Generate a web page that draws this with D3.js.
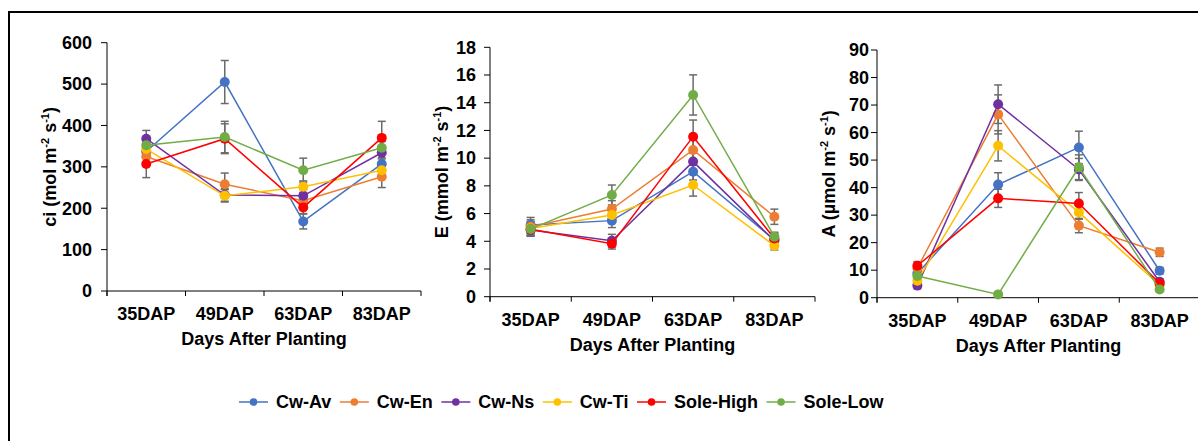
<!DOCTYPE html>
<html><head><meta charset="utf-8">
<script src="https://cdn.jsdelivr.net/npm/d3@7"></script>
<style>
html,body{margin:0;padding:0;background:#fff;}
svg{display:block;font-family:"Liberation Sans",Arial,sans-serif;}
</style></head>
<body>
<svg id="chart" width="1198" height="441"></svg>
<script>
const categories = ["35DAP","49DAP","63DAP","83DAP"];
const seriesNames = ["Cw-Av","Cw-En","Cw-Ns","Cw-Ti","Sole-High","Sole-Low"];
const seriesColors = ["#4472C4","#ED7D31","#7030A0","#FFC000","#FF0000","#70AD47"];

// ci (mol m-2 s-1)
const ciValues = [
  [337, 505, 168, 307],
  [325, 258, 218, 276],
  [368, 232, 230, 334],
  [343, 230, 252, 292],
  [307, 368, 202, 370],
  [352, 372, 292, 346]
];
const ciErrors = [
  [15, 52, 18, 15],
  [15, 27, 15, 26],
  [20, 15, 15, 15],
  [15, 15, 14, 15],
  [33, 36, 15, 40],
  [15, 38, 29, 15]
];
// E (mmol m-2 s-1)
const eValues = [
  [5.17, 5.49, 9.02, 4.10],
  [5.05, 6.33, 10.59, 5.77],
  [4.81, 4.04, 9.75, 4.04],
  [4.93, 5.90, 8.06, 3.68],
  [4.86, 3.83, 11.55, 4.20],
  [4.88, 7.34, 14.56, 4.33]
];
const eErrors = [
  [0.55, 0.50, 0.60, 0.40],
  [0.50, 0.60, 0.80, 0.55],
  [0.45, 0.46, 0.70, 0.40],
  [0.50, 0.50, 0.80, 0.30],
  [0.40, 0.39, 1.20, 0.40],
  [0.50, 0.72, 1.45, 0.32]
];
// A (µmol m-2 s-1)
const aValues = [
  [8.8, 41.1, 54.6, 9.8],
  [10.7, 66.6, 26.2, 16.5],
  [4.4, 70.3, 46.6, 5.8],
  [6.2, 55.2, 31.0, 4.6],
  [11.6, 36.1, 34.2, 5.2],
  [7.9, 1.2, 47.4, 3.0]
];
const aErrors = [
  [1.5, 4.3, 5.9, 1.2],
  [1.5, 7.1, 2.6, 1.5],
  [1.0, 7.0, 4.0, 1.0],
  [1.0, 5.5, 2.5, 1.0],
  [1.5, 3.3, 4.0, 1.0],
  [1.0, 0.5, 4.5, 0.8]
];
const ciTicks = [0,100,200,300,400,500,600];
const eTicks = [0,2,4,6,8,10,12,14,16,18];
const aTicks = [0,10,20,30,40,50,60,70,80,90];
const xTitle = "Days After Planting";

const svg = d3.select("#chart");
svg.append("rect").attr("width",1198).attr("height",441).attr("fill","#fff");
svg.append("rect").attr("x",9).attr("y",12).attr("width",1300).attr("height",500)
  .attr("fill","none").attr("stroke","#000").attr("stroke-width",2);

const panels = [
  {values:ciValues, errors:ciErrors, ticks:ciTicks, max:600, x0:107, x1:421, y0:291, y1:42.7, lblGap:15,
   title:["ci (mol m","-2"," s","-1",")"], titleX:56},
  {values:eValues, errors:eErrors, ticks:eTicks, max:18, x0:490, x1:815, y0:296.7, y1:47.3, lblGap:14,
   title:["E (mmol m","-2"," s","-1",")"], titleX:448},
  {values:aValues, errors:aErrors, ticks:aTicks, max:90, x0:877, x1:1200, y0:297.7, y1:50, lblGap:8,
   title:["A (\u00b5mol m","-2"," s","-1",")"], titleX:835}
];

panels.forEach(p => {
  const g = svg.append("g");
  const x = d3.scaleBand().domain(categories).range([p.x0, p.x1]).padding(0);
  const y = d3.scaleLinear().domain([0, p.max]).range([p.y0, p.y1]);
  const cx = c => x(c) + x.bandwidth()/2;

  // y axis
  g.append("line").attr("x1",p.x0).attr("x2",p.x0).attr("y1",y(p.max)).attr("y2",p.y0+5)
    .attr("stroke","#000").attr("stroke-width",1);
  p.ticks.forEach(t => {
    g.append("line").attr("x1",p.x0-6).attr("x2",p.x0).attr("y1",y(t)).attr("y2",y(t))
      .attr("stroke","#000").attr("stroke-width",1);
    g.append("text").attr("x",p.x0-p.lblGap).attr("y",y(t)).attr("dy","0.35em")
      .attr("text-anchor","end").attr("font-size",18).attr("font-weight","bold").text(t);
  });
  // x axis
  g.append("line").attr("x1",p.x0).attr("x2",p.x1).attr("y1",p.y0).attr("y2",p.y0)
    .attr("stroke","#000").attr("stroke-width",1);
  const bounds = categories.map(c => x(c)).concat([x(categories[categories.length-1]) + x.bandwidth()]);
  bounds.forEach(b => {
    g.append("line").attr("x1",b).attr("x2",b).attr("y1",p.y0).attr("y2",p.y0+5)
      .attr("stroke","#000").attr("stroke-width",1);
  });
  categories.forEach(c => {
    g.append("text").attr("x",cx(c)).attr("y",p.y0+29).attr("text-anchor","middle")
      .attr("font-size",18).attr("font-weight","bold").text(c);
  });
  g.append("text").attr("x",(p.x0+p.x1)/2).attr("y",p.y0+54).attr("text-anchor","middle")
    .attr("font-size",18).attr("font-weight","bold").text(xTitle);

  // y title
  const yt = g.append("text").attr("transform",`translate(${p.titleX},${(y(0)+y(p.max))/2}) rotate(-90)`)
    .attr("text-anchor","middle").attr("font-size",18).attr("font-weight","bold");
  yt.append("tspan").text(p.title[0]);
  yt.append("tspan").attr("font-size",11).attr("dy",-7).text(p.title[1]);
  yt.append("tspan").attr("dy",7).text(p.title[2]);
  yt.append("tspan").attr("font-size",11).attr("dy",-7).text(p.title[3]);
  yt.append("tspan").attr("dy",7).text(p.title[4]);

  // error bars
  const eg = g.append("g").attr("stroke","#6b6b6b").attr("stroke-width",1.5);
  p.values.forEach((vals, si) => {
    vals.forEach((v, i) => {
      const e = p.errors[si][i];
      const xc = cx(categories[i]);
      eg.append("line").attr("x1",xc).attr("x2",xc).attr("y1",y(v-e)).attr("y2",y(v+e));
      eg.append("line").attr("x1",xc-4).attr("x2",xc+4).attr("y1",y(v-e)).attr("y2",y(v-e));
      eg.append("line").attr("x1",xc-4).attr("x2",xc+4).attr("y1",y(v+e)).attr("y2",y(v+e));
    });
  });
  // series
  const line = d3.line().x((d,i) => cx(categories[i])).y(d => y(d));
  p.values.forEach((vals, si) => {
    const sg = g.append("g");
    sg.append("path").attr("d", line(vals)).attr("fill","none")
      .attr("stroke",seriesColors[si]).attr("stroke-width",1.5);
    vals.forEach((v,i) => {
      sg.append("circle").attr("cx",cx(categories[i])).attr("cy",y(v)).attr("r",5)
        .attr("fill",seriesColors[si]);
    });
  });
});

// legend
const lg = svg.append("g");
let lx = 239;
const ly = 402;
seriesNames.forEach((n, i) => {
  lg.append("line").attr("x1",lx).attr("x2",lx+29).attr("y1",ly).attr("y2",ly)
    .attr("stroke",seriesColors[i]).attr("stroke-width",1.5);
  lg.append("circle").attr("cx",lx+14.5).attr("cy",ly).attr("r",3.8).attr("fill",seriesColors[i]);
  const t = lg.append("text").attr("x",lx+37).attr("y",ly).attr("dy","0.36em")
    .attr("font-size",18).attr("font-weight","bold").text(n);
  const w = t.node().getComputedTextLength();
  lx = lx + 37 + w + 8.5;
});
</script>
</body></html>
